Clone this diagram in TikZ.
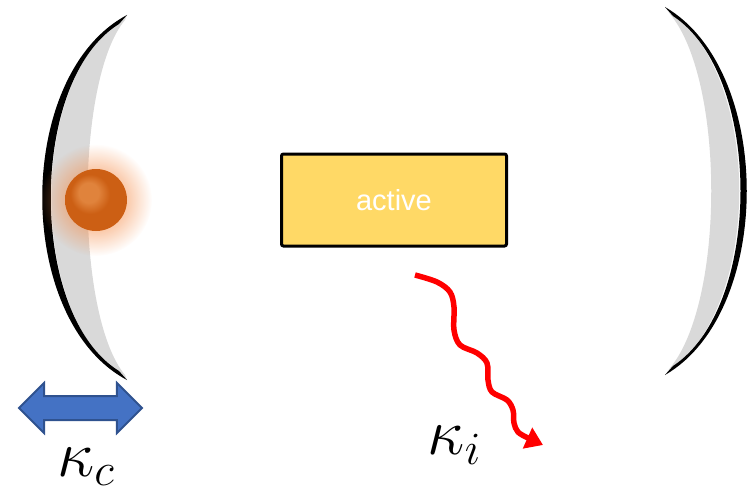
\RequirePackage{fix-cm}
\documentclass[tikz,border=0pt]{standalone}
\usepackage{fontspec}
\usepackage{tikz}
\usetikzlibrary{positioning,arrows.meta,shapes,fadings}
\usepackage{xcolor}

\newfontfamily\boxfont{Liberation Sans}
\definecolor{mirrorgrey}{HTML}{D9D9D9}
\definecolor{gainyellow}{HTML}{FFD966}
\definecolor{swingblue}{HTML}{4472C4}
\definecolor{swingedge}{HTML}{2F528F}
\definecolor{glowcol}{HTML}{F58A45}
\definecolor{beadhi}{HTML}{E0833C}
\definecolor{beadbody}{HTML}{CC5F14}
\definecolor{beaddark}{HTML}{6E300C}

\pgfdeclareradialshading{beadshade}{\pgfpoint{-7bp}{7bp}}{color(0bp)=(beadhi); color(8bp)=(beadhi); color(16bp)=(beadbody); color(34bp)=(beadbody); color(46bp)=(beaddark); color(50bp)=(beaddark)}
\tikzfading[name=glowfade, inner color=transparent!0, outer color=transparent!100]

\begin{document}
\begin{tikzpicture}[
    x=1pt, y=-1pt,
    gain/.style={draw=black, line width=3pt, fill=gainyellow, rounded corners=2pt,
        minimum width=225pt, minimum height=92pt, text=white,
        font=\boxfont\fontsize{29}{34}\selectfont},
    bead/.style={circle, inner sep=0pt, minimum size=62pt, shading=beadshade},
    swing/.style={double arrow, draw=swingedge, line width=2pt, fill=swingblue,
        minimum height=123pt, double arrow head extend=13pt, inner sep=0pt},
    rate/.style={font=\fontsize{66}{70}\selectfont, inner sep=0pt},
    leak/.style={red, line width=5.5pt, -{Triangle[length=17pt, width=22pt]}}
]
\useasboundingbox (0,0) rectangle (748,495);

% left mirror
\fill[mirrorgrey] (125,20) .. controls (75,80) and (75,315) .. (125,375) -- (127,380)
    .. controls (26,320) and (26,75) .. (127,15) -- cycle;
\fill (127,15) .. controls (14,75) and (14,320) .. (127,380) -- (119,371)
    .. controls (28,315) and (28,80) .. (119,24) -- cycle;
% right mirror
\fill[mirrorgrey] (670,14) .. controls (725,80) and (725,302) .. (670,368) -- (665,375)
    .. controls (764,310) and (764,72) .. (665,7) -- cycle;
\fill (665,7) .. controls (774,70) and (774,312) .. (665,375) -- (673,366)
    .. controls (763,307) and (763,75) .. (673,16) -- cycle;

\fill[glowcol, path fading=glowfade] (96,200) circle (56pt);
\node[bead] (bead) at (96,200) {};

\node[gain] (active) at (394,200) {active};

\coordinate (leakfrom) at (415,275);
\coordinate (leakto) at (543,445);
\draw[leak] plot[smooth, tension=0.55] coordinates {(leakfrom) (437,282) (450,292) (454,307)
    (454,330) (460,345) (477,353) (487,363) (488,380) (492,392) (507,400) (513,410)
    (514,423) (518,432) (528,438) (leakto)};
\node[rate, left=62pt of leakto] (ki) {$\kappa_i$};

\node[swing] (swing) at (80.5,408) {\rule{0pt}{22pt}};
\node[rate, anchor=base west] (kc) at (57,476) {$\kappa_c$};
\end{tikzpicture}
\end{document}
